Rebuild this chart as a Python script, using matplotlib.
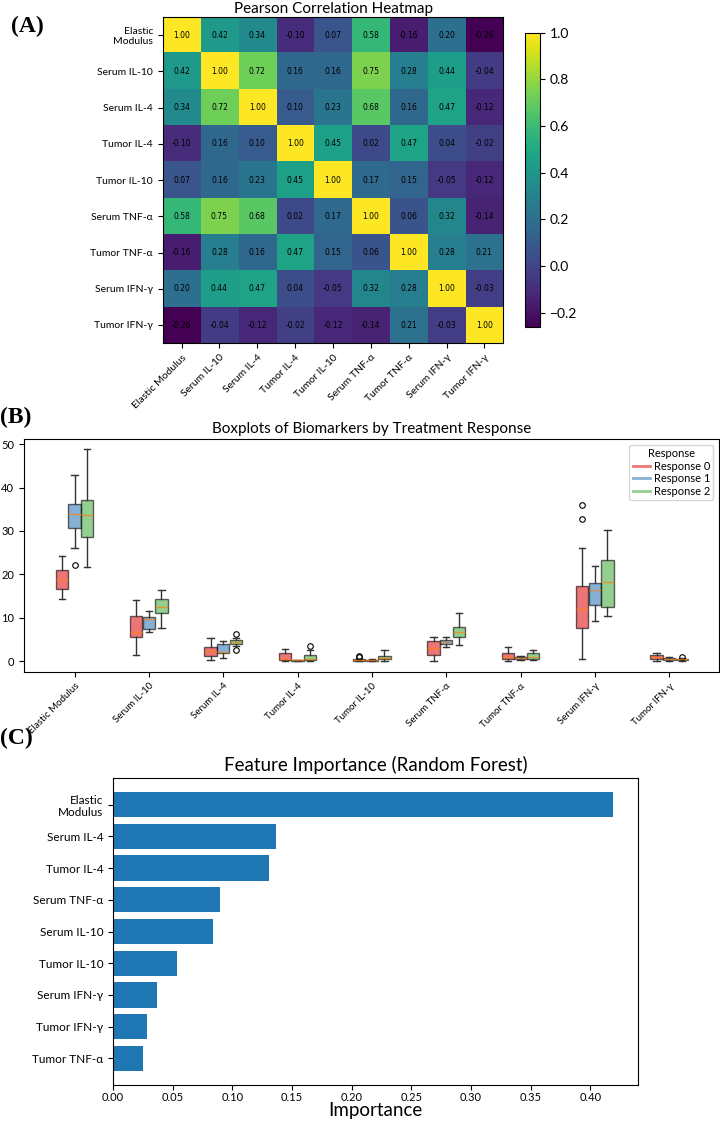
import numpy as np
import matplotlib
matplotlib.use("Agg")
import matplotlib.pyplot as plt
from matplotlib.lines import Line2D

plt.rcParams['font.family'] = ['Lato', 'DejaVu Sans']

# ---- data ----
markers = ["Elastic Modulus", "Serum IL-10", "Serum IL-4", "Tumor IL-4", "Tumor IL-10",
           "Serum TNF-α", "Tumor TNF-α", "Serum IFN-γ", "Tumor IFN-γ"]
heat_ylabels = ["Elastic\nModulus"] + markers[1:]

corr = np.array([
    [1.00, 0.42, 0.34, -0.10, 0.07, 0.58, -0.16, 0.20, -0.26],
    [0.42, 1.00, 0.72, 0.16, 0.16, 0.75, 0.28, 0.44, -0.04],
    [0.34, 0.72, 1.00, 0.10, 0.23, 0.68, 0.16, 0.47, -0.12],
    [-0.10, 0.16, 0.10, 1.00, 0.45, 0.02, 0.47, 0.04, -0.02],
    [0.07, 0.16, 0.23, 0.45, 1.00, 0.17, 0.15, -0.05, -0.12],
    [0.58, 0.75, 0.68, 0.02, 0.17, 1.00, 0.06, 0.32, -0.14],
    [-0.16, 0.28, 0.16, 0.47, 0.15, 0.06, 1.00, 0.28, 0.21],
    [0.20, 0.44, 0.47, 0.04, -0.05, 0.32, 0.28, 1.00, -0.03],
    [-0.26, -0.04, -0.12, -0.02, -0.12, -0.14, 0.21, -0.03, 1.00],
])

responses = ["Response 0", "Response 1", "Response 2"]
# per response: whisker low, q1, median, q3, whisker high, fliers (one entry per marker)
r0_whislo = [14.3, 1.5, 0.3, 0.1, 0.0, 0.0, 0.0, 0.6, 0.1]
r0_q1 = [16.6, 5.6, 1.3, 0.3, 0.1, 1.5, 0.5, 7.7, 0.5]
r0_med = [18.6, 6.8, 2.3, 0.4, 0.2, 3.0, 1.0, 12.1, 1.0]
r0_q3 = [21.0, 10.4, 3.2, 1.9, 0.4, 4.6, 2.0, 17.3, 1.5]
r0_whishi = [24.3, 14.0, 5.3, 2.8, 0.6, 5.5, 3.2, 26.1, 2.0]
r0_fliers = [[], [], [], [], [0.9, 1.3], [], [], [32.8, 36.0], []]

r1_whislo = [26.1, 6.8, 0.8, 0.05, 0.0, 3.3, 0.2, 9.3, 0.1]
r1_q1 = [30.7, 7.4, 2.0, 0.1, 0.1, 4.0, 0.4, 12.9, 0.3]
r1_med = [33.9, 9.8, 2.2, 0.2, 0.2, 4.5, 0.7, 16.3, 0.5]
r1_q3 = [36.2, 10.2, 4.0, 0.3, 0.3, 5.0, 0.9, 18.0, 0.7]
r1_whishi = [42.9, 11.5, 4.7, 0.35, 0.5, 5.5, 1.1, 22.0, 1.0]
r1_fliers = [[22.1], [], [], [], [], [], [], [], []]

r2_whislo = [21.6, 7.7, 3.6, 0.1, 0.1, 3.8, 0.2, 10.4, 0.0]
r2_q1 = [28.6, 11.0, 4.0, 0.3, 0.4, 5.5, 0.5, 12.5, 0.2]
r2_med = [33.6, 12.6, 4.5, 0.5, 0.8, 6.7, 1.0, 18.3, 0.4]
r2_q3 = [37.2, 14.4, 4.8, 1.5, 1.3, 7.9, 1.8, 23.3, 0.6]
r2_whishi = [48.8, 16.5, 5.3, 2.5, 2.5, 11.0, 2.5, 30.3, 0.8]
r2_fliers = [[], [], [2.5, 6.3], [3.4], [], [], [], [], [1.0]]

feat_names = ["Elastic\nModulus", "Serum IL-4", "Tumor IL-4", "Serum TNF-α", "Serum IL-10",
              "Tumor IL-10", "Serum IFN-γ", "Tumor IFN-γ", "Tumor TNF-α"]
feat_imp = [0.419, 0.137, 0.131, 0.0895, 0.0837, 0.0536, 0.0366, 0.0282, 0.0251]

colors = ["#e41a1c", "#377eb8", "#4daf4a"]

fig = plt.figure(figsize=(7.2, 11.25), dpi=100)

# ---- (A) heatmap ----
axA = fig.add_axes([0.226, 0.695, 0.473, 0.290])
im = axA.imshow(corr, cmap="viridis", vmin=corr.min(), vmax=1.0, aspect="auto")
for i in range(len(markers)):
    for j in range(len(markers)):
        axA.text(j, i, "{:.2f}".format(corr[i, j]), ha="center", va="center",
                 fontsize=5.5, family="DejaVu Sans", color="black")
axA.set_xticks(range(len(markers)))
axA.set_xticklabels(markers, rotation=45, ha="right", rotation_mode="anchor", fontsize=7.5)
axA.set_yticks(range(len(markers)))
axA.set_yticklabels(heat_ylabels, fontsize=7.5)
axA.set_title("Pearson Correlation Heatmap", fontsize=11, pad=3)
cax = fig.add_axes([0.729, 0.7096, 0.021, 0.2613])
cb = fig.colorbar(im, cax=cax)
cb.set_ticks([-0.2, 0.0, 0.2, 0.4, 0.6, 0.8, 1.0])
cb.ax.tick_params(labelsize=10)
fig.text(0.015, 0.986, "(A)", fontsize=17, fontweight="bold", family="Liberation Serif", va="top")

# ---- (B) boxplots ----
axB = fig.add_axes([0.0333, 0.403, 0.9653, 0.2068])
groups = [
    (r0_whislo, r0_q1, r0_med, r0_q3, r0_whishi, r0_fliers),
    (r1_whislo, r1_q1, r1_med, r1_q3, r1_whishi, r1_fliers),
    (r2_whislo, r2_q1, r2_med, r2_q3, r2_whishi, r2_fliers),
]
base = np.arange(len(markers))
offsets = [-0.17, 0.0, 0.17]
for k, (wlo, q1, med, q3, whi, fl) in enumerate(groups):
    stats = []
    for m in range(len(markers)):
        stats.append(dict(whislo=wlo[m], q1=q1[m], med=med[m], q3=q3[m], whishi=whi[m],
                          fliers=fl[m]))
    axB.bxp(stats, positions=base + offsets[k], widths=0.165, patch_artist=True,
            manage_ticks=False,
            boxprops=dict(facecolor=colors[k], edgecolor="black", alpha=0.6, linewidth=1),
            medianprops=dict(color="#ff7f0e", linewidth=1, alpha=0.7),
            whiskerprops=dict(color="#333333", linewidth=1),
            capprops=dict(color="#333333", linewidth=1),
            flierprops=dict(marker="o", markersize=4, markerfacecolor="none",
                            markeredgecolor="black", markeredgewidth=0.8))
axB.set_xlim(-0.68, 8.67)
axB.set_ylim(-2.4, 51.2)
axB.set_yticks([0, 10, 20, 30, 40, 50])
axB.set_xticks(base)
axB.set_xticklabels(markers, rotation=45, ha="right", rotation_mode="anchor", fontsize=7)
axB.tick_params(axis="y", labelsize=8)
axB.set_title("Boxplots of Biomarkers by Treatment Response", fontsize=11, pad=4)
handles = [Line2D([0], [0], color=c, alpha=0.6, lw=2) for c in colors]
axB.legend(handles, responses, title="Response", loc="upper right", fontsize=8,
           title_fontsize=8, handlelength=1.6, borderpad=0.3, labelspacing=0.15,
           handletextpad=0.3)
fig.text(0.0, 0.638, "(B)", fontsize=17, fontweight="bold", family="Liberation Serif", va="top")

# ---- (C) feature importance ----
axC = fig.add_axes([0.157, 0.0356, 0.729, 0.2728])
ypos = np.arange(len(feat_names))
axC.barh(ypos, feat_imp, color="#1f77b4", height=0.8)
axC.invert_yaxis()
axC.set_yticks(ypos)
axC.set_yticklabels(feat_names, fontsize=8.5)
axC.tick_params(axis="x", labelsize=8, pad=1.5)
axC.set_xlim(0, 0.44)
axC.set_xlabel("Importance", fontsize=13.5, va="top")
axC.xaxis.set_label_coords(0.5, -0.056)
axC.set_title("Feature Importance (Random Forest)", fontsize=13.5, pad=5)
fig.text(0.0, 0.353, "(C)", fontsize=17, fontweight="bold", family="Liberation Serif", va="top")

fig.savefig("out.png", dpi=100)
